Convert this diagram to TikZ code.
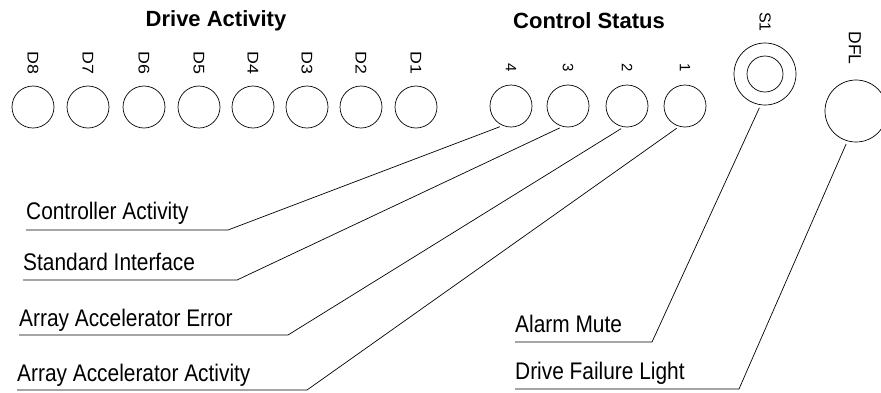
\documentclass[tikz,border=0pt]{standalone}
\usepackage{fontspec}
\setmainfont{Liberation Sans}
\newfontfamily\narrowfont{Liberation Sans}[FakeStretch=0.87]
\newfontfamily\widefont{Liberation Sans}[FakeStretch=1.15]

\begin{document}
\begin{tikzpicture}[x=1pt,y=-1pt,
    led/.style={draw,circle,line width=0.7pt,minimum size=42pt,inner sep=0pt},
    tag/.style={rotate=-90,inner sep=0pt,font=\fontsize{15}{15}\selectfont},
    title/.style={font=\bfseries\fontsize{22}{22}\selectfont},
    caption/.style={anchor=base west,inner sep=0pt,font=\narrowfont\fontsize{24}{24}\selectfont},
    leader/.style={line width=0.7pt,shorten <=3pt}]
        \useasboundingbox (0,0) rectangle (881,392);

        % Titoli
        \node[title] (drivetitle) at (216,21) {Drive Activity};
        \node[title] (ctrltitle) at (589,21) {Control Status};

        % Spie dei dischi
        \foreach \i/\x in {8/33,7/88,6/144,5/199,4/253,3/307,2/361,1/416} {
            \node[led] (d\i) at (\x,107) {};
            \node[tag,font=\widefont\fontsize{15.5}{15.5}\selectfont] (dtag\i) at (\x,63) {D\i};
        }

        % Spie di stato
        \foreach \i/\x in {4/511,3/568,2/627,1/685} {
            \node[led] (s\i) at (\x,106) {};
            \node[tag] (stag\i) at (\x,68) {\i};
        }

        % Pulsante S1 e spia DFL
        \node[led,minimum size=62pt] (mute) at (765,74) {};
        \node[led,minimum size=36pt] (mutein) at (765,74) {};
        \node[tag,font=\fontsize{16}{16}\selectfont] (mutetag) at (765,22) {S1};
        \node[led,minimum size=62pt] (dfl) at (856,111) {};
        \node[tag,font=\fontsize{17.5}{17.5}\selectfont] (dfltag) at (855,48) {DFL};

        % Didascalie
        \node[caption] (ctrl) at (26,219) {Controller Activity};
        \node[caption] (std) at (23,270) {Standard Interface};
        \node[caption] (aaerr) at (19,326) {Array Accelerator Error};
        \node[caption] (aaact) at (17,381) {Array Accelerator Activity};
        \node[caption] (alarm) at (515,332) {Alarm Mute};
        \node[caption] (fail) at (515,379) {Drive Failure Light};

        % Angoli delle linee di richiamo
        \coordinate (ctrlend) at (228,230);
        \coordinate (stdend) at (237,280);
        \coordinate (aaerrend) at (288,335);
        \coordinate (aaactend) at (307,390);
        \coordinate (alarmend) at (652,342);
        \coordinate (failend) at (739,389);

        % Linee di richiamo
        \draw[leader] (s4.-113) -- (ctrlend) -- (ctrlend -| ctrl.west);
        \draw[leader] (s3.-105) -- (stdend) -- (stdend -| std.west);
        \draw[leader] (s2.-99) -- (aaerrend) -- (aaerrend -| aaerr.west);
        \draw[leader] (s1.-106) -- (aaactend) -- (aaactend -| aaact.west);
        \draw[leader] (mute.-98) -- (alarmend) -- (alarmend -| alarm.west);
        \draw[leader] (dfl.-106) -- (failend) -- (failend -| fail.west);
    \end{tikzpicture}
\end{document}
